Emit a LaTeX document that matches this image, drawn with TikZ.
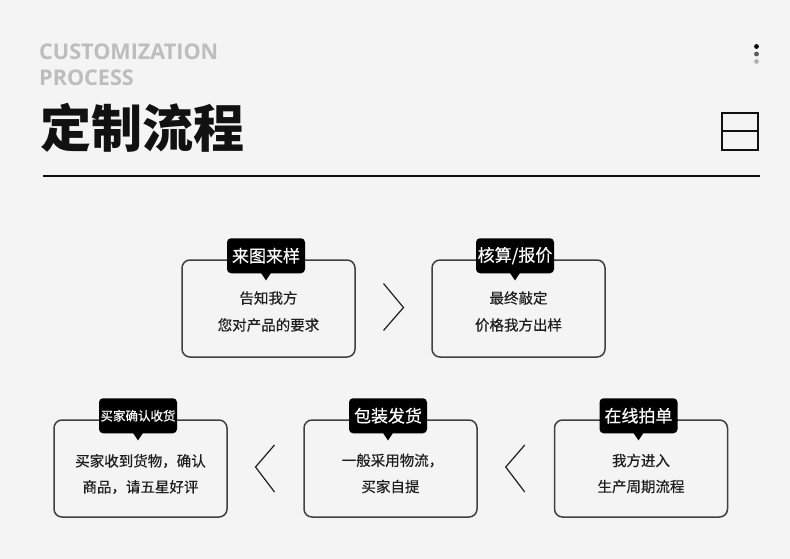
\documentclass[tikz,border=0pt]{standalone}
\usepackage{fontspec}
\newfontfamily\cjk{Noto Sans CJK SC}
\newfontfamily\cjkm{Noto Sans CJK SC}[FakeBold=0.45]
\newfontfamily\osans{Open Sans}
\usetikzlibrary{calc}
\definecolor{bg}{HTML}{F4F4F4}
\definecolor{engray}{HTML}{BDBDBD}
\definecolor{cardline}{HTML}{404040}
\definecolor{textdark}{HTML}{1E1E1E}
\definecolor{titleblack}{HTML}{111111}
\begin{document}
\begin{tikzpicture}[x=1pt,y=-1pt,
  card/.style={draw=cardline, line width=1.5pt, rounded corners=8pt, minimum width=173pt, minimum height=97pt, inner sep=0pt},
  tagbox/.style={fill=black, rounded corners=4pt, minimum width=78pt, minimum height=35pt, inner sep=0pt, text=white, font=\cjkm\fontsize{17}{17}\selectfont},
  smalltag/.style={tagbox, font=\cjkm\fontsize{12.5}{12.5}\selectfont},
  bodytext/.style={font=\cjkm\fontsize{14.5}{14.5}\selectfont, text=textdark, inner sep=0pt},
  chev/.style={draw=textdark, line width=1.2pt},
  entext/.style={font=\osans\bfseries\fontsize{21.6}{21.6}\selectfont, text=engray, inner sep=0pt, anchor=base west}
]
\useasboundingbox (0,0) rectangle (790,559);
\fill[bg] (0,0) rectangle (790,559);

% header
\node[entext] (en1) at (39,60) {CUSTOMIZATION};
\node[entext] (en2) at (39,85.5) {PROCESS};
\node[font=\cjk\bfseries\fontsize{51}{51}\selectfont, text=titleblack, inner sep=0pt, anchor=base west] (title) at (40,148) {定制流程};
\coordinate (hl1) at (43,176);
\coordinate (hl2) at (760,176);
\draw[line width=2pt, color=titleblack] (hl1) -- (hl2);

% dots
\fill[black] (756.5,46.5) circle (2.4pt);
\fill[black!65] (756.5,54) circle (2.4pt);
\fill[black!30] (756.5,61.5) circle (2.4pt);

% icon
\draw[line width=2pt, color=titleblack] (722,113) rectangle (758,150);
\draw[line width=2pt, color=titleblack] (722,131.5) -- (758,131.5);

% cards
\node[card] (b1) at (268.5,308.5) {};
\node[card] (b2) at (518.5,308.5) {};
\node[card] (bA) at (140.5,468.5) {};
\node[card] (bB) at (390.5,468.5) {};
\node[card] (bC) at (641,468.5) {};

% tags
\node[tagbox] (t1) at ($(b1.north)+(-2.5,-3.5)$) {来图来样};
\node[tagbox] (t2) at ($(b2.north)+(-3.5,-3.5)$) {核算/报价};
\node[smalltag] (tA) at ($(bA.north)+(-2.5,-3.5)$) {买家确认收货};
\node[tagbox] (tB) at ($(bB.north)+(-2.5,-3.5)$) {包装发货};
\node[tagbox] (tC) at ($(bC.north)+(-2.5,-3.5)$) {在线拍单};
\foreach \t in {t1,t2,tA,tB,tC}{
  \fill[black] ($(\t.south)+(-5,-0.5)$) -- ($(\t.south)+(5,-0.5)$) -- ($(\t.south)+(0,7)$) -- cycle;
}

% texts
\node[bodytext] (x11) at ($(b1.center)+(0,-10.5)$) {告知我方};
\node[bodytext] (x12) at ($(b1.center)+(0,16.5)$) {您对产品的要求};
\node[bodytext] (x21) at ($(b2.center)+(0,-10.5)$) {最终敲定};
\node[bodytext] (x22) at ($(b2.center)+(0,16.5)$) {价格我方出样};
\node[bodytext] (xA1) at ($(bA.center)+(0,-7.5)$) {买家收到货物，确认};
\node[bodytext] (xA2) at ($(bA.center)+(0,18.5)$) {商品，请五星好评};
\node[bodytext] (xB1) at ($(bB.center)+(2,-8)$) {一般采用物流，};
\node[bodytext] (xB2) at ($(bB.center)+(0,18)$) {买家自提};
\node[bodytext] (xC1) at ($(bC.center)+(0,-8)$) {我方进入};
\node[bodytext] (xC2) at ($(bC.center)+(0,18)$) {生产周期流程};

% chevrons
\coordinate (m1) at ($(b1.east)!0.5!(b2.west)$);
\coordinate (m2) at ($(bA.east)!0.5!(bB.west)$);
\coordinate (m3) at ($(bB.east)!0.5!(bC.west)$);
\draw[chev] ($(m1)+(-10,-25)$) -- ($(m1)+(10,-1)$) -- ($(m1)+(-10,22)$);
\draw[chev] ($(m2)+(9,-23.5)$) -- ($(m2)+(-10,-1.5)$) -- ($(m2)+(9,23.5)$);
\draw[chev] ($(m3)+(9,-23.5)$) -- ($(m3)+(-10,-1.5)$) -- ($(m3)+(9,23.5)$);
\end{tikzpicture}
\end{document}
